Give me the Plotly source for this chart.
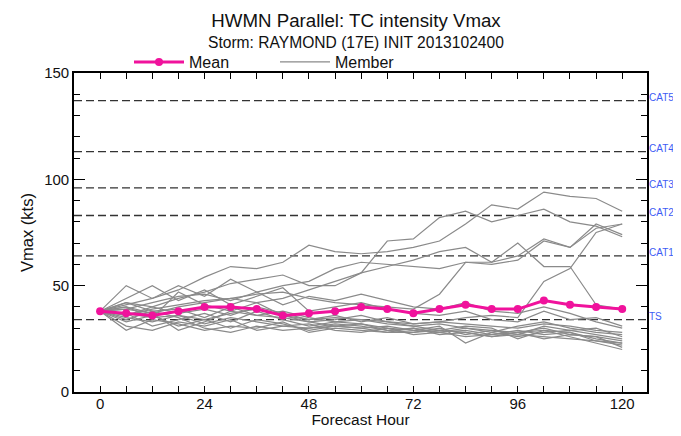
import plotly.graph_objects as go

hours = list(range(0, 121, 6))

mean_vmax = [38, 37, 36, 38, 40, 40, 39, 36, 37, 38, 40, 39, 37, 39, 41, 39, 39, 43, 41, 40, 39]

member_01 = [38, 41, 44, 48, 54, 59, 58, 61, 69, 66, 65, 66, 68, 71, 79, 88, 86, 94, 92, 91, 85]
member_02 = [38, 42, 40, 44, 47, 51, 53, 55, 50, 50, 56, 71, 72, 82, 85, 80, 83, 86, 80, 78, 73]
member_03 = [38, 36, 39, 41, 43, 44, 46, 47, 44, 42, 41, 40, 39, 46, 61, 60, 62, 71, 68, 79, 74]
member_04 = [38, 40, 37, 40, 42, 44, 42, 44, 48, 52, 56, 59, 62, 66, 68, 61, 70, 59, 59, 41, 39]
member_05 = [38, 39, 42, 45, 46, 43, 47, 50, 52, 58, 61, 60, 59, 58, 61, 61, 64, 72, 68, 77, 79]
member_06 = [38, 37, 35, 36, 34, 37, 39, 36, 34, 35, 34, 33, 32, 33, 35, 36, 35, 52, 58, 75, 79]
member_07 = [38, 50, 44, 50, 45, 53, 47, 41, 45, 43, 46, 43, 40, 39, 42, 38, 37, 40, 37, 33, 30]
member_08 = [38, 44, 50, 43, 48, 41, 45, 49, 38, 40, 42, 39, 37, 36, 38, 34, 33, 38, 34, 35, 31]
member_09 = [38, 40, 35, 47, 41, 38, 36, 35, 33, 34, 36, 33, 31, 32, 30, 28, 31, 33, 30, 28, 27]
member_10 = [38, 35, 33, 36, 32, 35, 33, 31, 30, 32, 31, 29, 28, 30, 27, 29, 28, 30, 27, 26, 24]
member_11 = [38, 33, 36, 31, 34, 30, 34, 32, 29, 31, 30, 31, 29, 28, 29, 27, 29, 27, 28, 25, 23]
member_12 = [38, 29, 34, 32, 29, 31, 30, 33, 28, 30, 29, 28, 30, 27, 28, 26, 27, 26, 25, 24, 22]
member_13 = [38, 37, 31, 34, 37, 33, 38, 34, 31, 33, 32, 30, 29, 31, 23, 28, 26, 28, 29, 27, 25]
member_14 = [38, 42, 38, 39, 35, 40, 36, 38, 35, 33, 34, 32, 31, 29, 31, 30, 25, 29, 26, 23, 20]
member_15 = [38, 36, 40, 37, 39, 36, 40, 37, 34, 36, 33, 35, 32, 33, 32, 31, 30, 32, 31, 29, 28]
member_16 = [38, 31, 29, 33, 31, 34, 29, 31, 32, 29, 28, 30, 27, 28, 26, 27, 28, 25, 27, 26, 21]
member_17 = [38, 39, 37, 29, 33, 38, 42, 36, 33, 31, 32, 29, 30, 28, 30, 29, 27, 31, 29, 30, 26]
member_18 = [38, 34, 38, 35, 30, 28, 31, 29, 30, 31, 30, 28, 28, 29, 28, 26, 28, 29, 28, 24, 23]

members = [member_01, member_02, member_03, member_04, member_05, member_06,
           member_07, member_08, member_09, member_10, member_11, member_12,
           member_13, member_14, member_15, member_16, member_17, member_18]

cat_labels = ["TS", "CAT1", "CAT2", "CAT3", "CAT4", "CAT5"]
cat_speeds = [34, 64, 83, 96, 113, 137]

x_tick_vals = list(range(0, 121, 6))
x_tick_text = [str(h) if h % 24 == 0 else "" for h in x_tick_vals]
y_tick_vals = [0, 50, 100, 150]

FONT = "Liberation Sans, Arial, Helvetica, sans-serif"
MEAN_COLOR = "#f0129c"
MEMBER_COLOR = "#8a8a8a"

# the page body adds an 8px offset; the figure is sized so the page does not scroll
W, H = 673, 420
ML, MR, MT, MB = 66, 34, 65, 36
PW, PH = W - ML - MR, H - MT - MB

fig = go.Figure()

for i, m in enumerate(members):
    fig.add_trace(go.Scatter(
        x=hours, y=m, mode="lines",
        line=dict(color=MEMBER_COLOR, width=1.2),
        name="Member", legendgroup="member", showlegend=(i == 0),
        legendrank=2, hoverinfo="skip",
    ))

fig.add_trace(go.Scatter(
    x=hours, y=mean_vmax, mode="lines+markers",
    line=dict(color=MEAN_COLOR, width=3),
    marker=dict(color=MEAN_COLOR, size=8),
    name="Mean", legendrank=1,
))

for lab, spd in zip(cat_labels, cat_speeds):
    fig.add_shape(type="line", xref="paper", x0=0, x1=1, yref="y", y0=spd, y1=spd,
                  line=dict(color="#333333", width=1.3, dash="8px,4px"), layer="below")
    fig.add_annotation(xref="paper", x=1, xanchor="left", xshift=1,
                       yref="y", y=spd, yanchor="middle", yshift=3,
                       text=lab, showarrow=False, borderpad=0,
                       font=dict(family=FONT, size=10, color="#3d5cf5"))

fig.add_annotation(xref="paper", x=(348 - ML) / PW, xanchor="center",
                   yref="paper", y=1 + (MT - 34) / PH, yanchor="middle",
                   text="Storm: RAYMOND (17E) INIT 2013102400", showarrow=False,
                   font=dict(family=FONT, size=15.6, color="#111111"))

fig.update_layout(
    width=W, height=H,
    margin=dict(l=ML, r=MR, t=MT, b=MB),
    paper_bgcolor="white", plot_bgcolor="white",
    font=dict(family=FONT, size=15, color="#111111"),
    title=dict(text="HWMN Parallel: TC intensity Vmax",
               x=348 / W, xanchor="center", xref="container",
               y=1 - 12 / H, yanchor="middle", yref="container",
               font=dict(family=FONT, size=18.7, color="#111111")),
    showlegend=True,
    legend=dict(orientation="h", x=(121 - ML) / PW, xanchor="left",
                y=1 + (MT - 54) / PH, yanchor="middle",
                font=dict(family=FONT, size=16), itemwidth=50,
                bgcolor="rgba(0,0,0,0)", entrywidth=81, entrywidthmode="pixels"),
    xaxis=dict(range=[-6, 125.7], tickmode="array", tickvals=x_tick_vals, ticktext=x_tick_text,
               ticks="inside", ticklen=6, tickwidth=1.3, tickcolor="black",
               showline=True, linecolor="black", linewidth=1.6, mirror="ticks",
               showgrid=False, zeroline=False, automargin=False, ticklabelstandoff=-3,
               tickfont=dict(family=FONT, size=15),
               title=dict(text="Forecast Hour", standoff=0, font=dict(family=FONT, size=15.5))),
    yaxis=dict(range=[0, 150], tickmode="array", tickvals=y_tick_vals,
               ticks="inside", ticklen=11, tickwidth=1.3, tickcolor="black",
               minor=dict(tickmode="linear", tick0=0, dtick=10, ticks="inside", ticklen=6,
                          tickwidth=1.2, tickcolor="black", showgrid=False),
               showline=True, linecolor="black", linewidth=1.6, mirror="ticks",
               showgrid=False, zeroline=False, automargin=False,
               tickfont=dict(family=FONT, size=15),
               title=dict(text="Vmax (kts)", standoff=6, font=dict(family=FONT, size=16.5))),
)

fig.write_html("out.html")
